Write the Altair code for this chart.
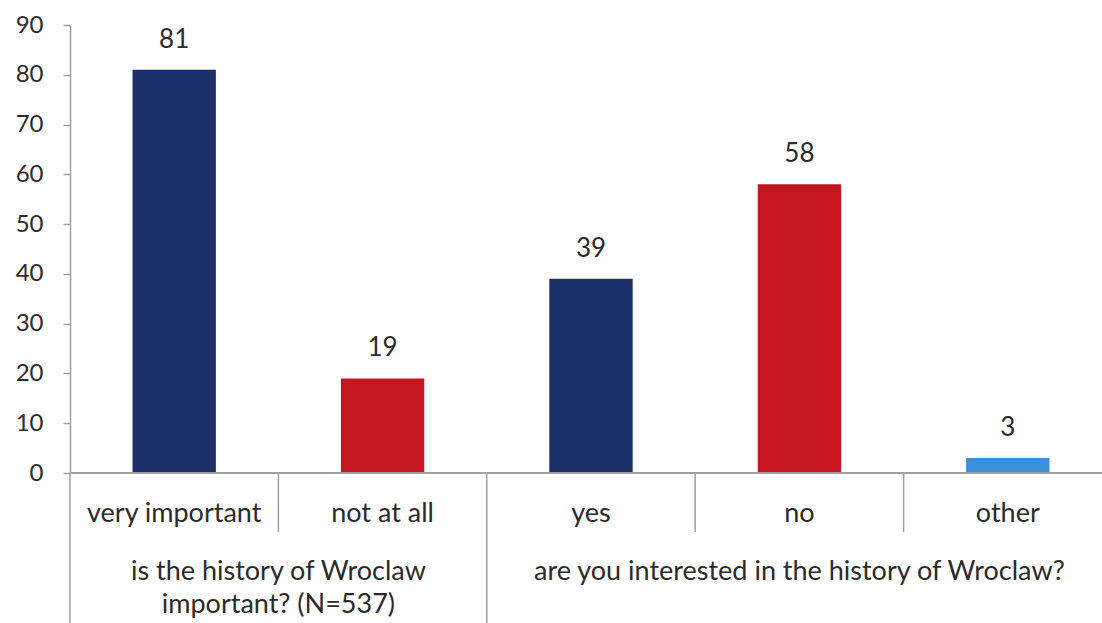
import altair as alt
import pandas as pd

cats = ["very important", "not at all", "yes", "no", "other"]
vals = [81, 19, 39, 58, 3]
bar_colors = ["#1b3068", "#c3161e", "#1b3068", "#c3161e", "#3b8fd8"]

long_sep = ["very important", "yes"]
short_sep = ["not at all", "no", "other"]

group1_anchor = ["not at all"]
group1_text = [["is the history of Wroclaw", "important? (N=537)"]]
group2_anchor = ["no"]
group2_text = ["are you interested in the history of Wroclaw?"]

FONT = "Lato"
TXT = "#2b2b2b"
GRAY = "#a0a0a0"
W, H = 1032, 448

df = pd.DataFrame({"cat": cats, "val": vals, "color": bar_colors})
xscale = alt.Scale(domain=cats, paddingInner=0, paddingOuter=0, range=[0, 1042])

def X(pos=0.5):
    return alt.X("cat:N", sort=cats, scale=xscale, axis=None, bandPosition=pos)

bars = alt.Chart(df).mark_bar(width=alt.RelativeBandSize(0.40)).encode(
    x=X(0.5),
    y=alt.Y("val:Q", scale=alt.Scale(domain=[0, 90], nice=False),
            axis=alt.Axis(values=list(range(0, 100, 10)), title=None, grid=False,
                          domainColor=GRAY, domainWidth=1.5, tickColor=GRAY,
                          tickWidth=1.5, tickSize=7, labelFont=FONT, labelFontSize=24,
                          labelColor=TXT, labelPadding=20)),
    color=alt.Color("color:N", scale=None),
)

baseline = alt.Chart(df).mark_rule(color=GRAY, strokeWidth=1.5).encode(
    x=alt.value(0), x2=alt.value(1042), y=alt.datum(0))

values = alt.Chart(df).mark_text(font=FONT, fontSize=26, color=TXT,
                                 baseline="alphabetic", dy=-22).encode(
    x=X(0.5), y=alt.Y("val:Q"), text=alt.Text("val:Q"))

cat_labels = alt.Chart(df).mark_text(font=FONT, fontSize=27, color=TXT,
                                     baseline="alphabetic").encode(
    x=X(0.5), y=alt.value(H + 49), text="cat:N")

long_df = pd.DataFrame({"cat": long_sep})
short_df = pd.DataFrame({"cat": short_sep})
long_rules = alt.Chart(long_df).mark_rule(color=GRAY, strokeWidth=1.5).encode(
    x=X(0), y=alt.value(H), y2=alt.value(H + 150))
short_rules = alt.Chart(short_df).mark_rule(color=GRAY, strokeWidth=1.5).encode(
    x=X(0), y=alt.value(H), y2=alt.value(H + 59))

g1 = alt.Chart(pd.DataFrame({"cat": group1_anchor, "t": group1_text})).mark_text(
    font=FONT, fontSize=27, color=TXT, baseline="alphabetic", lineHeight=33).encode(
    x=X(0), y=alt.value(H + 107), text="t")
g2 = alt.Chart(pd.DataFrame({"cat": group2_anchor, "t": group2_text})).mark_text(
    font=FONT, fontSize=27, color=TXT, baseline="alphabetic").encode(
    x=X(0.5), y=alt.value(H + 107), text="t:N")

chart = alt.layer(bars, baseline, values, cat_labels, long_rules, short_rules, g1, g2).properties(
    width=W, height=H,
    autosize=alt.AutoSizeParams(type="none"),
    padding={"left": 70, "top": 25, "right": 0, "bottom": 150},
    background="white",
).configure_view(stroke=None)

chart.save("out.html", embed_options={"renderer": "svg", "actions": False})
